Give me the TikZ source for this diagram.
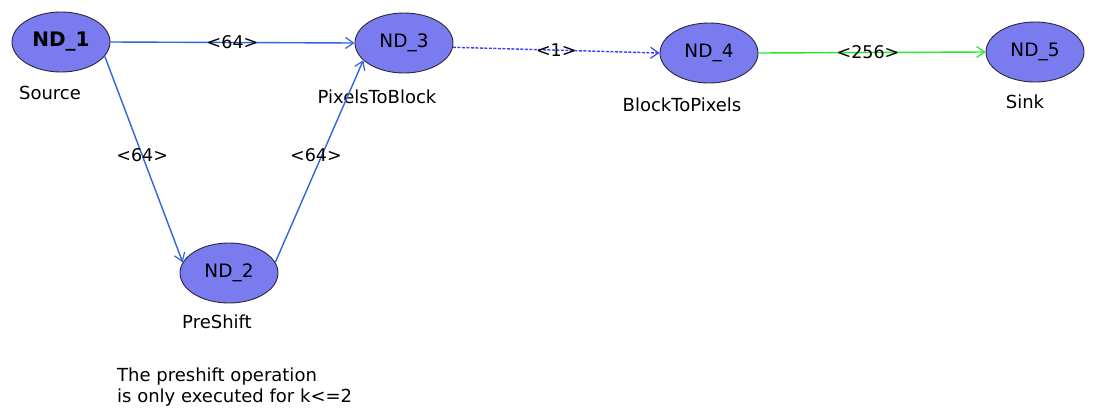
\documentclass[tikz,border=0pt]{standalone}
\usepackage{fontspec}
\setmainfont{DejaVu Sans}
\usetikzlibrary{shapes.geometric,arrows.meta}
\definecolor{nodefill}{RGB}{123,123,240}
\definecolor{nodeline}{RGB}{40,40,60}
\definecolor{edgeblue}{RGB}{50,100,220}
\definecolor{edgedash}{RGB}{60,60,255}
\definecolor{edgegreen}{RGB}{40,230,40}
\tikzset{
  actor/.style={ellipse, draw=nodeline, line width=0.9pt, fill=nodefill,
    minimum width=98pt, minimum height=60pt, inner sep=0pt,
    font=\fontsize{18.5}{20}\selectfont},
  caption/.style={inner sep=0pt, font=\fontsize{18}{21}\selectfont},
  rate/.style={inner sep=0pt, text=black, font=\fontsize{17.5}{20}\selectfont},
  flow/.style={line width=1.4pt, -{Straight Barb[length=8pt,width=11pt,line width=1.2pt]}},
}
\begin{document}
\begin{tikzpicture}[x=1pt,y=-1pt]
\useasboundingbox (0,0) rectangle (1094,413);

% actors
\node[actor, font=\fontsize{20}{22}\selectfont\bfseries] (n1) at (61,42) {ND\_1};
\node[actor] (n2) at (229,273) {ND\_2};
\node[actor] (n3) at (404,43) {ND\_3};
\node[actor] (n4) at (709,53) {ND\_4};
\node[actor] (n5) at (1035,52) {ND\_5};

% actor names
\node[caption] (c1) at (50,93) {Source};
\node[caption] (c2) at (217,322) {PreShift};
\node[caption] (c3) at (377,97) {PixelsToBlock};
\node[caption] (c4) at (682,105) {BlockToPixels};
\node[caption] (c5) at (1025,102) {Sink};

% channels
\draw[flow, edgeblue] (n1.east) -- node[rate] {<64>} (n3.west);
\draw[flow, edgeblue] (n1.-18) -- node[rate, pos=0.48] {<64>} (n2.167);
\draw[flow, edgeblue] (n2.13) -- node[rate, pos=0.53, xshift=-6pt] {<64>} (n3.203);
\draw[flow, edgedash, dashed, dash pattern=on 3pt off 1.5pt] (n3.-5) -- node[rate] {<1>} (n4.west);
\draw[flow, edgegreen] (n4.east) -- node[rate, xshift=-4pt] {<256>} (n5.west);

% annotation
\node[caption, anchor=west, align=left] (note) at (117,387)
  {The preshift operation\\is only executed for k<=2};
\end{tikzpicture}
\end{document}
